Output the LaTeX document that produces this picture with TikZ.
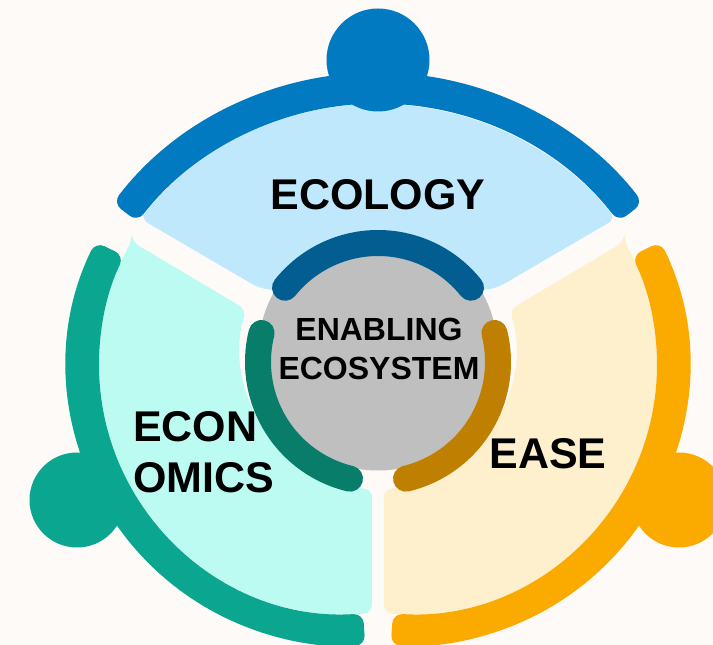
\documentclass[tikz,border=0pt]{standalone}
\usepackage{fontspec}
\setmainfont{Liberation Sans}
\definecolor{paper}{RGB}{254,250,248}
\definecolor{ecoblue}{RGB}{2,122,193}
\definecolor{ecolight}{RGB}{191,232,253}
\definecolor{ecodark}{RGB}{2,94,145}
\definecolor{econteal}{RGB}{10,166,143}
\definecolor{econlight}{RGB}{188,251,241}
\definecolor{econdark}{RGB}{8,125,106}
\definecolor{easegold}{RGB}{251,170,0}
\definecolor{easelight}{RGB}{254,239,205}
\definecolor{easedark}{RGB}{191,127,0}
\definecolor{coregray}{RGB}{191,191,191}

\begin{document}
\begin{tikzpicture}[x=1pt, y=1pt,
        inner/.style={line width=26pt, line cap=round},
        bigtext/.style={font=\fontsize{43}{50}\selectfont\bfseries, inner sep=0pt, anchor=base},
        coretext/.style={font=\fontsize{32}{38}\selectfont\bfseries, inner sep=0pt, anchor=base}]
            \useasboundingbox (0,0) rectangle (713,645);
            \clip (0,0) rectangle (713,645);
            \fill[paper] (0,0) rectangle (713,645);

            \fill[ecolight, rounded corners=8pt] ([shift={(378,238)}]141.6:303pt) arc[start angle=141.6, end angle=38.4, radius=303pt] -- (497,357) -- (378,340) -- (259,357) -- cycle;
            \fill[econlight, rounded corners=8pt] ([shift={(348,280)}]150.3:249pt) -- ([shift={(378,294)}]162.6:138pt) arc[start angle=162.6, end angle=267.5, radius=138pt] -- ([shift={(348,280)}]275.5:249pt) arc[start angle=275.5, end angle=150.3, radius=249pt] -- cycle;
            \fill[easelight, rounded corners=8pt] ([shift={(408,280)}]29.7:249pt) -- ([shift={(378,294)}]17.4:138pt) arc[start angle=17.4, end angle=-87.5, radius=138pt] -- ([shift={(408,280)}]-95.5:249pt) arc[start angle=-95.5, end angle=29.7, radius=249pt] -- cycle;

            \fill[ecoblue, rounded corners=10pt] ([shift={(378,238)}]142.4:334.5pt) arc[start angle=142.4, end angle=37.6, radius=334.5pt] -- ([shift={(378,238)}]37.6:303.5pt) arc[start angle=37.6, end angle=142.4, radius=303.5pt] -- cycle;
            \fill[econteal, rounded corners=10pt] ([shift={(348,280)}]154:281pt) arc[start angle=154, end angle=273.5, radius=281pt] -- ([shift={(348,280)}]273.5:249pt) arc[start angle=273.5, end angle=154, radius=249pt] -- cycle;
            \fill[easegold, rounded corners=10pt] ([shift={(408,280)}]26:281pt) arc[start angle=26, end angle=-93.5, radius=281pt] -- ([shift={(408,280)}]-93.5:249pt) arc[start angle=-93.5, end angle=26, radius=249pt] -- cycle;
            \fill[ecoblue] (378,585) circle (51.5pt);
            \fill[econteal] (77,145) circle (47.5pt);
            \fill[easegold] (679,145) circle (47.5pt);

            \fill[coregray] (378,294) circle (119.5pt);
            \draw[inner, ecodark] ([shift={(378,283)}]141.4:119pt) arc[start angle=141.4, end angle=38.6, radius=119pt];
            \draw[inner, econdark] ([shift={(378,283)}]166:120pt) arc[start angle=166, end angle=256.5, radius=120pt];
            \draw[inner, easedark] ([shift={(378,283)}]14:120pt) arc[start angle=14, end angle=-76.5, radius=120pt];

            \node[bigtext] (ecology) at (378,435.7) {ECOLOGY};
            \node[bigtext, anchor=base west] (econ) at (133,203) {ECON};
            \node[bigtext, anchor=base west] (omics) at (133,152) {OMICS};
            \node[bigtext] (ease) at (548,176) {EASE};
            \node[coretext] (enabling) at (379,304.3) {ENABLING};
            \node[coretext] (ecosystem) at (379,265.7) {ECOSYSTEM};
        \end{tikzpicture}
\end{document}
